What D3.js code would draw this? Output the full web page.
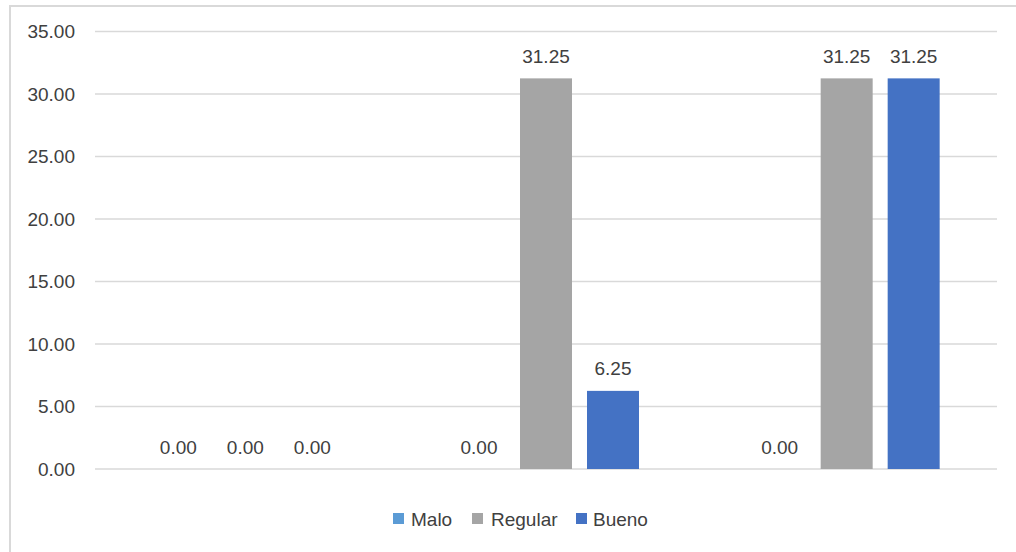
<!DOCTYPE html>
<html><head><meta charset="utf-8">
<script src="https://cdn.jsdelivr.net/npm/d3@7"></script>
<style>
html,body{margin:0;padding:0;background:#fff;}
text{font-family:"Liberation Sans",Arial,sans-serif;}
</style></head>
<body>
<svg id="chart" width="1016" height="552"></svg>
<script>
const categories = ["1", "2", "3"];
const seriesNames = ["Malo", "Regular", "Bueno"];
const malo = [0.00, 0.00, 0.00];
const regular = [0.00, 31.25, 31.25];
const bueno = [0.00, 6.25, 31.25];
const yTicks = [0, 5, 10, 15, 20, 25, 30, 35];
const colors = ["#5b9bd5", "#a5a5a5", "#4472c4"];

(function () {
const values = [malo, regular, bueno];
const svg = d3.select("#chart");
const textColor = "#404040";
const fs = 19;

// outer border
svg.append("rect").attr("x", 10).attr("y", 6).attr("width", 1030).attr("height", 580)
  .attr("fill", "#fff").attr("stroke", "#d9d9d9").attr("stroke-width", 2);

const pLeft = 95, pRight = 997, pTop = 31.5, pBottom = 469;
const y = d3.scaleLinear().domain([0, 35]).range([pBottom, pTop]);
const pi = 99.67 / 300.67;
const x0 = d3.scaleBand().domain(categories).range([pLeft, pRight]).paddingInner(pi).paddingOuter(pi / 2);
const x1 = d3.scaleBand().domain(seriesNames).range([0, x0.bandwidth()]).paddingInner(15 / 67).paddingOuter(7.5 / 67);

// gridlines
svg.append("g").selectAll("line").data(yTicks).join("line")
  .attr("x1", pLeft).attr("x2", pRight)
  .attr("y1", d => y(d)).attr("y2", d => y(d))
  .attr("stroke", "#d9d9d9").attr("stroke-width", 1.5);

// y axis labels
const yAxis = d3.axisLeft(y).tickValues(yTicks).tickFormat(d3.format(".2f")).tickSize(0).tickPadding(20);
const ga = svg.append("g").attr("transform", `translate(${pLeft},0)`).call(yAxis);
ga.select(".domain").remove();
ga.selectAll("text").attr("font-size", fs).attr("fill", textColor)
  .attr("font-family", "'Liberation Sans', Arial, sans-serif");

// bars
const rows = [];
categories.forEach((c, i) => seriesNames.forEach((s, j) => rows.push({c, s, j, v: values[j][i]})));
const g = svg.append("g");
g.selectAll("rect").data(rows).join("rect")
  .attr("x", d => x0(d.c) + x1(d.s))
  .attr("y", d => y(d.v))
  .attr("width", x1.bandwidth())
  .attr("height", d => y(0) - y(d.v))
  .attr("fill", d => colors[d.j]);

g.selectAll("text").data(rows).join("text")
  .attr("x", d => x0(d.c) + x1(d.s) + x1.bandwidth() / 2)
  .attr("y", d => y(d.v) - 15.5)
  .attr("text-anchor", "middle")
  .attr("font-size", fs).attr("fill", textColor)
  .text(d => d3.format(".2f")(d.v));

// legend
const legendItems = [
  {sx: 393, tx: 411},
  {sx: 472, tx: 491},
  {sx: 576, tx: 593}
];
const lg = svg.append("g");
legendItems.forEach((it, i) => {
  lg.append("rect").attr("x", it.sx).attr("y", 513).attr("width", 11).attr("height", 11).attr("fill", colors[i]);
  lg.append("text").attr("x", it.tx).attr("y", 526).attr("font-size", fs).attr("fill", textColor).text(seriesNames[i]);
});
})();
</script>
</body></html>
